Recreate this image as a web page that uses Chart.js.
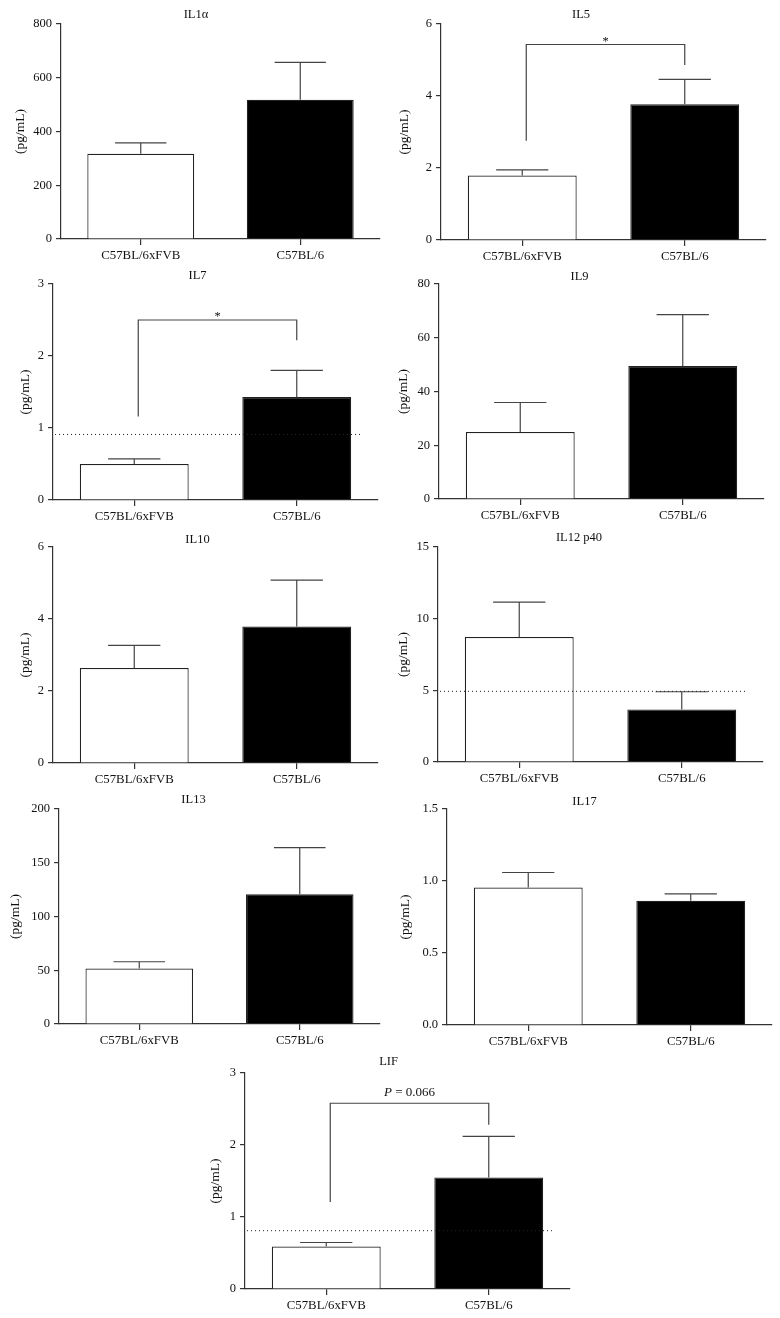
<!DOCTYPE html>
<html>
<head>
<meta charset="utf-8">
<script src="https://cdn.jsdelivr.net/npm/chart.js@4.4.1/dist/chart.umd.min.js"></script>
<style>
  html, body { margin: 0; padding: 0; background: #fff; }
  #figura { position: relative; width: 780px; height: 1318px; }
  #figura canvas { position: absolute; }
</style>
</head>
<body>
<div id="figura"></div>
<script>
// Dados (média e erro por painel)
const categorias = ['C57BL/6xFVB', 'C57BL/6'];
const titulos = ['IL1α', 'IL5', 'IL7', 'IL9', 'IL10', 'IL12 p40', 'IL13', 'IL17', 'LIF'];
const medias = [[317, 518], [1.79, 3.77], [0.50, 1.43], [24.9, 49.5], [2.64, 3.79], [8.72, 3.67], [51.6, 120.8], [0.955, 0.862], [0.59, 1.55]];
const erros = [[41, 139], [0.16, 0.69], [0.07, 0.37], [11.0, 19.1], [0.63, 1.29], [2.44, 1.23], [6.3, 43.2], [0.104, 0.049], [0.056, 0.57]];
const eixoMax = [800, 6, 3, 80, 6, 15, 200, 1.5, 3];
const eixoPasso = [200, 2, 1, 20, 2, 5, 50, 0.5, 1];
const casasDecimais = [0, 0, 0, 0, 0, 0, 0, 1, 0];
const limites = [null, null, 0.91, null, null, 4.93, null, null, 0.81]; // linha pontilhada
const comparacoes = [
    null,
    { y: 5.43, esq: 2.76, dir: 4.86, texto: '*' },
    { y: 2.50, esq: 1.16, dir: 2.22, texto: '*' },
    null, null, null, null, null,
    { y: 2.58, esq: 1.21, dir: 2.28, texto: 'P = 0.066' }
];

// Posições dos painéis: eixo esquerdo, topo, zero, direita, centro do título, centro do rótulo Y
const caixas = [
    [61, 24, 239, 380, 14, 20],
    [441, 24, 240, 766, 14, 404],
    [53, 284, 500, 378, 275, 25],
    [439, 284, 499, 764, 276, 403],
    [53, 547, 763, 378, 539, 25],
    [438, 547, 762, 763, 537, 403],
    [59, 809, 1024, 380, 799, 15],
    [447, 809, 1025, 772, 801, 405],
    [245, 1073, 1289, 570, 1061, 215]
];

const fonte = "'Liberation Serif', 'DejaVu Serif', serif";
const corLinha = '#333';
const corTexto = '#111';

function criarPainel(i) {
    const [L, T, B, R, tY, yX] = caixas[i];
    const esquerda = Math.round(yX - 8);
    const topo = Math.round(tY - 7.5);
    const largura = R + 6 - esquerda;
    const altura = B + 40 - topo;

    const canvas = document.createElement('canvas');
    canvas.width = largura;
    canvas.height = altura;
    canvas.style.left = esquerda + 'px';
    canvas.style.top = topo + 'px';
    canvas.style.width = largura + 'px';
    canvas.style.height = altura + 'px';
    document.getElementById('figura').appendChild(canvas);

    const extras = {
        id: 'extras' + i,
        afterDatasetsDraw(chart) {
            const ctx = chart.ctx;
            const y = chart.scales.y;
            const meta = chart.getDatasetMeta(0);
            ctx.save();
            ctx.strokeStyle = '#444';
            ctx.lineWidth = 1.2;

            // barras de erro (só para cima)
            meta.data.forEach((barra, j) => {
                const yTopo = y.getPixelForValue(medias[i][j] + erros[i][j]);
                const meia = barra.width * 0.24;
                ctx.beginPath();
                ctx.moveTo(barra.x, barra.y);
                ctx.lineTo(barra.x, yTopo);
                ctx.moveTo(barra.x - meia, yTopo);
                ctx.lineTo(barra.x + meia, yTopo);
                ctx.stroke();
            });

            // linha pontilhada (limite de detecção)
            if (limites[i] !== null) {
                const yl = y.getPixelForValue(limites[i]);
                const b2 = meta.data[1];
                ctx.save();
                ctx.strokeStyle = '#222';
                ctx.lineWidth = 1;
                ctx.setLineDash([1, 3]);
                ctx.beginPath();
                ctx.moveTo(chart.chartArea.left + 2, yl);
                ctx.lineTo(b2.x + b2.width / 2 + 10, yl);
                ctx.stroke();
                ctx.restore();
            }

            // colchete de comparação
            const c = comparacoes[i];
            if (c) {
                const xE = meta.data[0].x + 4;
                const xD = meta.data[1].x;
                const yb = y.getPixelForValue(c.y);
                ctx.beginPath();
                ctx.moveTo(xE, y.getPixelForValue(c.esq));
                ctx.lineTo(xE, yb);
                ctx.lineTo(xD, yb);
                ctx.lineTo(xD, y.getPixelForValue(c.dir));
                ctx.stroke();

                const meio = (xE + xD) / 2;
                ctx.fillStyle = corTexto;
                ctx.textBaseline = 'alphabetic';
                if (c.texto === '*') {
                    ctx.font = `12.5px ${fonte}`;
                    ctx.textAlign = 'center';
                    ctx.fillText('*', meio, yb);
                } else {
                    // "P" em itálico, resto normal
                    const [p, resto] = [c.texto.slice(0, 1), c.texto.slice(1)];
                    ctx.font = `italic 13px ${fonte}`;
                    const wP = ctx.measureText(p).width;
                    ctx.font = `13px ${fonte}`;
                    const wR = ctx.measureText(resto).width;
                    const x0 = meio - (wP + wR) / 2;
                    ctx.textAlign = 'left';
                    ctx.font = `italic 13px ${fonte}`;
                    ctx.fillText(p, x0, yb - 7);
                    ctx.font = `13px ${fonte}`;
                    ctx.fillText(resto, x0 + wP, yb - 7);
                }
            }
            ctx.restore();
        }
    };

    new Chart(canvas.getContext('2d'), {
        type: 'bar',
        data: {
            labels: categorias,
            datasets: [{
                data: medias[i],
                backgroundColor: ['#ffffff', '#000000'],
                borderColor: '#222',
                borderWidth: 1.2,
                barPercentage: 0.67,
                categoryPercentage: 1
            }]
        },
        options: {
            responsive: false,
            animation: false,
            devicePixelRatio: 1,
            layout: { padding: { left: 0, right: 6, top: 0, bottom: 0 } },
            plugins: {
                legend: { display: false },
                tooltip: { enabled: false },
                title: {
                    display: true,
                    text: titulos[i],
                    color: corTexto,
                    font: { family: fonte, size: 12.5, weight: 'normal' },
                    padding: { top: 0, bottom: Math.max(0, T - topo - 15) }
                }
            },
            scales: {
                x: {
                    offset: true,
                    grid: { offset: false, drawOnChartArea: false, tickLength: 6, color: corLinha, lineWidth: 1.2 },
                    border: { color: corLinha, width: 1.2 },
                    ticks: { color: corTexto, font: { family: fonte, size: 12.8 }, padding: 3, maxRotation: 0 },
                    afterFit: (s) => { s.height = 40; }
                },
                y: {
                    min: 0,
                    max: eixoMax[i],
                    grid: { drawOnChartArea: false, tickLength: 5, color: corLinha, lineWidth: 1.2 },
                    border: { color: corLinha, width: 1.2 },
                    ticks: {
                        stepSize: eixoPasso[i],
                        color: corTexto,
                        padding: 4,
                        font: { family: fonte, size: 12.5 },
                        callback: (v) => Number(v).toFixed(casasDecimais[i])
                    },
                    title: {
                        display: true,
                        text: '(pg/mL)',
                        color: corTexto,
                        padding: 0,
                        font: { family: fonte, size: 13.5 }
                    },
                    afterFit: (s) => { s.width = L - esquerda; }
                }
            }
        },
        plugins: [extras]
    });
}

for (let i = 0; i < titulos.length; i++) criarPainel(i);
</script>
</body>
</html>
